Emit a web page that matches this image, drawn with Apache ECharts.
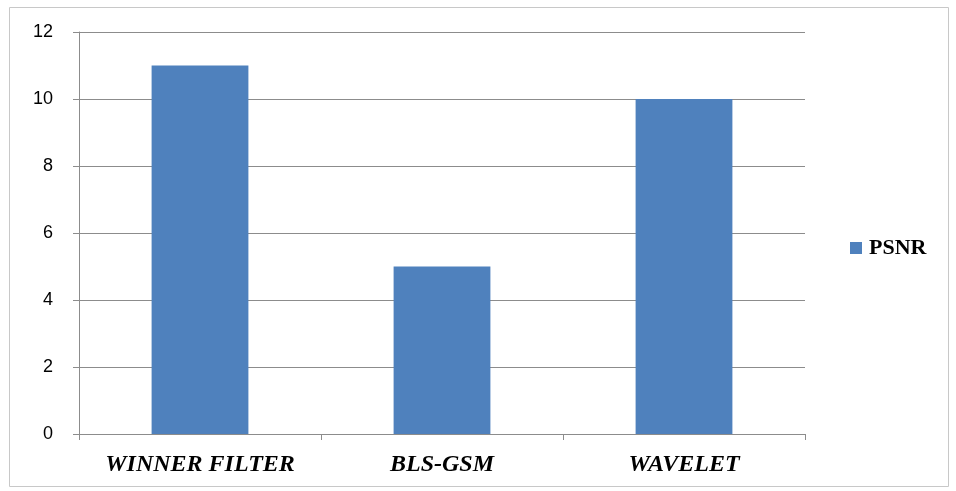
<!DOCTYPE html>
<html>
<head>
<meta charset="utf-8">
<script src="https://cdn.jsdelivr.net/npm/echarts@6/dist/echarts.min.js"></script>
<style>
  html, body { margin: 0; padding: 0; background: #fff; }
  #chart { width: 956px; height: 491px; }
</style>
</head>
<body>
<div id="chart"></div>
<script>
// PSNR comparison of denoising methods
const categories = ['WINNER FILTER', 'BLS-GSM', 'WAVELET'];
const psnrValues = [11, 5, 10];
const seriesName = 'PSNR';

const serif = '"Liberation Serif", "Times New Roman", serif';

const chart = echarts.init(document.getElementById('chart'), null, { renderer: 'canvas' });

chart.setOption({
  animation: false,
  backgroundColor: '#ffffff',
  graphic: [{
    type: 'rect',
    shape: { x: 9.5, y: 7.5, width: 939, height: 479 },
    style: { fill: 'none', stroke: '#c8c8c8', lineWidth: 1 },
    silent: true
  }],
  grid: { left: 79, right: 151, top: 32, bottom: 57, containLabel: false },
  legend: {
    data: [seriesName],
    orient: 'vertical',
    left: 845,
    top: 232,
    icon: 'rect',
    itemWidth: 12,
    itemHeight: 12,
    itemGap: 4,
    textStyle: {
      fontFamily: serif,
      fontWeight: 'bold',
      fontSize: 22,
      color: '#000',
      padding: [0, 0, 0, 2]
    }
  },
  xAxis: {
    type: 'category',
    data: categories,
    boundaryGap: true,
    axisLine: { lineStyle: { color: '#8c8c8c', width: 1 } },
    axisTick: { show: true, length: 6, lineStyle: { color: '#8c8c8c' } },
    axisLabel: {
      interval: 0,
      hideOverlap: false,
      margin: 19,
      fontFamily: serif,
      fontStyle: 'italic',
      fontWeight: 'bold',
      fontSize: 24,
      color: '#000'
    }
  },
  yAxis: {
    type: 'value',
    min: 0,
    max: 12,
    interval: 2,
    axisLine: { show: true, lineStyle: { color: '#8c8c8c', width: 1 } },
    axisTick: { show: true, length: 6, lineStyle: { color: '#8c8c8c' } },
    splitLine: { lineStyle: { color: '#8c8c8c', width: 1 } },
    axisLabel: {
      margin: 26,
      fontFamily: '"Liberation Sans", Arial, sans-serif',
      fontSize: 18,
      color: '#000'
    }
  },
  series: [{
    name: seriesName,
    type: 'bar',
    data: psnrValues,
    barWidth: '40%',
    itemStyle: { color: '#4f81bd' }
  }]
});
</script>
</body>
</html>
